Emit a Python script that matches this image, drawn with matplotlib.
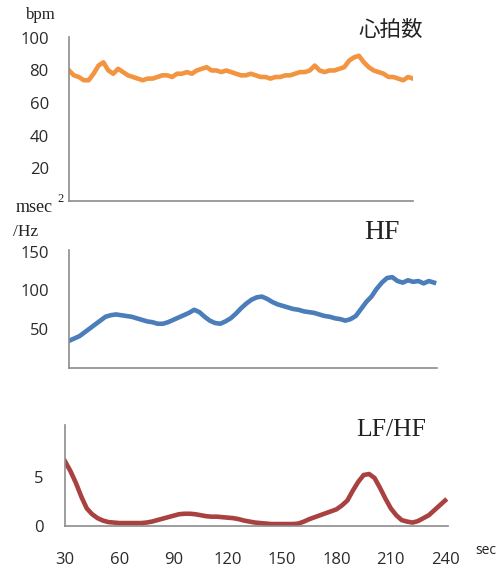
import numpy as np
import matplotlib
matplotlib.use("Agg")
import matplotlib.pyplot as plt

# time grid (sec)
time_sec = np.arange(30, 243, 3)

heart_rate = [80, 77, 76, 74, 74, 78, 83, 85, 80, 78,
              81, 79, 77, 76, 75, 74, 75, 75, 76, 77,
              77, 76, 78, 78, 79, 78, 80, 81, 82, 80,
              80, 79, 80, 79, 78, 77, 77, 78, 77, 76,
              76, 75, 76, 76, 77, 77, 78, 79, 79, 80,
              83, 80, 79, 80, 80, 81, 82, 86, 88, 89,
              85, 82, 80, 79, 78, 76, 76, 75, 74, 76,
              75]

hf = [35, 38, 41, 46, 51, 56, 61, 66, 68, 69,
      68, 67, 66, 64, 62, 60, 59, 57, 57, 59,
      62, 65, 68, 71, 75, 72, 66, 61, 58, 57,
      60, 64, 70, 77, 83, 88, 91, 92, 89, 85,
      82, 80, 78, 76, 75, 73, 72, 71, 69, 67,
      66, 64, 63, 61, 63, 67, 76, 85, 92, 102,
      110, 116, 117, 112, 110, 113, 111, 112, 109, 112,
      110]

lf_hf = [6.6, 5.6, 4.4, 3.0, 1.8, 1.2, 0.8, 0.55, 0.4, 0.35,
         0.3, 0.3, 0.3, 0.3, 0.3, 0.35, 0.45, 0.6, 0.75, 0.9,
         1.05, 1.2, 1.25, 1.25, 1.2, 1.1, 1.0, 0.95, 0.95, 0.9,
         0.85, 0.8, 0.7, 0.55, 0.45, 0.35, 0.3, 0.25, 0.2, 0.2,
         0.2, 0.2, 0.2, 0.25, 0.45, 0.7, 0.9, 1.1, 1.3, 1.5,
         1.7, 2.1, 2.6, 3.6, 4.5, 5.2, 5.3, 4.9, 3.9, 2.8,
         1.8, 1.1, 0.6, 0.45, 0.35, 0.5, 0.8, 1.1, 1.6, 2.1,
         2.6]

hr_ticks = [20, 40, 60, 80, 100]
hf_ticks = [50, 100, 150]
lfhf_ticks = [0, 5]
x_ticks = [30, 60, 90, 120, 150, 180, 210, 240]

W, H = 497, 575
fig = plt.figure(figsize=(W / 100, H / 100), dpi=100)

def rect(x0, y0, x1, y1):
    return [x0 / W, 1 - y1 / H, (x1 - x0) / W, (y1 - y0) / H]

tick_font = dict(family="Open Sans", size=12, color="#2a2a2a")
spine_col = "#8c8c8c"

def style(ax):
    for s in ["top", "right"]:
        ax.spines[s].set_visible(False)
    for s in ["left", "bottom"]:
        ax.spines[s].set_color(spine_col)
        ax.spines[s].set_linewidth(1.2)
    ax.tick_params(length=0)
    ax.set_facecolor("none")

ax1 = fig.add_axes(rect(69, 37, 413, 201))
ax1.plot(time_sec, heart_rate, color="#F39440", lw=3.3, solid_joinstyle="round")
ax1.set_xlim(30, 240)
ax1.set_ylim(0, 100.5)
ax1.set_yticks(hr_ticks)
ax1.set_yticklabels([str(v) for v in hr_ticks], fontdict=tick_font)
ax1.set_xticks([])
ax1.tick_params(axis="y", pad=14.5)
style(ax1)

ax2 = fig.add_axes(rect(69, 250, 437, 368))
ax2.plot(time_sec, hf, color="#4A7DBA", lw=3.3, solid_joinstyle="round")
ax2.set_xlim(30, 241.7)
ax2.set_ylim(0, 152)
ax2.set_yticks(hf_ticks)
ax2.set_yticklabels([str(v) for v in hf_ticks], fontdict=tick_font)
ax2.set_xticks([])
ax2.tick_params(axis="y", pad=14.5)
style(ax2)

ax3 = fig.add_axes(rect(65, 425, 448, 526))
ax3.plot(time_sec, lf_hf, color="#A8413F", lw=3.3, solid_joinstyle="round")
ax3.set_xlim(30, 241.6)
ax3.set_ylim(0, 10.3)
ax3.set_yticks(lfhf_ticks)
ax3.set_yticklabels([str(v) for v in lfhf_ticks], fontdict=tick_font)
ax3.set_xticks(x_ticks)
ax3.set_xticklabels([str(v) for v in x_ticks], fontdict=tick_font)
ax3.tick_params(axis="y", pad=15.5)
ax3.tick_params(axis="x", pad=19)
style(ax3)

def ftext(x, y, s, **kw):
    fig.text(x / W, 1 - y / H, s, **kw)

serif = "Liberation Serif"
ftext(41, 15, "bpm", family=serif, size=12, ha="center", va="center", color="#222222")
ftext(34, 207, "msec", family=serif, size=13, ha="center", va="center", color="#222222")
ftext(61, 199, "2", family=serif, size=9, ha="center", va="center", color="#222222")
ftext(26, 232, "/Hz", family=serif, size=12.5, ha="center", va="center", color="#222222")
ftext(391, 30, "心拍数", family=["Noto Sans CJK JP", "DejaVu Sans"], size=15.5,
      ha="center", va="center", color="#222222")
ftext(382, 232, "HF", family=serif, size=20, ha="center", va="center", color="#222222")
ftext(391, 430, "LF/HF", family=serif, size=18.5, ha="center", va="center", color="#222222")
ftext(486, 551, "sec", family="Open Sans", size=10, ha="center", va="center", color="#222222")

fig.savefig("out.png", dpi=100, facecolor="white")
